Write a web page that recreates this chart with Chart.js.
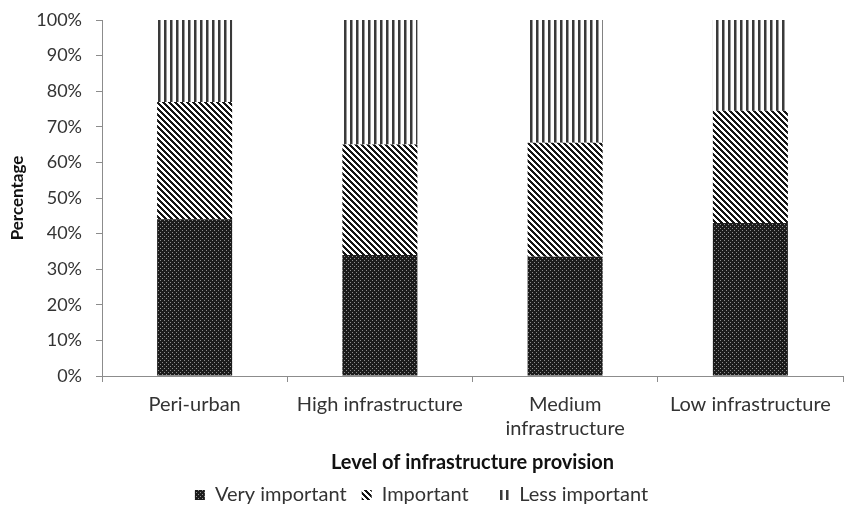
<!DOCTYPE html>
<html>
<head>
<meta charset="utf-8">
<script src="https://cdn.jsdelivr.net/npm/chart.js@4.4.0/dist/chart.umd.min.js"></script>
<style>
  html, body { margin: 0; padding: 0; background: #fff; }
  #wrap { width: 856px; height: 515px; }
</style>
</head>
<body>
<div id="wrap"><canvas id="chart" width="856" height="515"></canvas></div>
<script>
const categories = ['Peri-urban', 'High infrastructure', ['Medium', 'infrastructure'], 'Low infrastructure'];
const veryImportant = [44, 34, 33.5, 43];
const important = [33, 31, 32, 31.5];
const lessImportant = [23, 35, 34.5, 25.5];
const yTicks = [0, 10, 20, 30, 40, 50, 60, 70, 80, 90, 100];
// trailing spaces widen the gap between legend entries
const legendGaps = [1, 4, 0];

// small tiles used as fill patterns for the stacked bars
function makePattern(w, h, draw) {
    const c = document.createElement('canvas');
    c.width = w;
    c.height = h;
    const g = c.getContext('2d');
    g.fillStyle = '#fff';
    g.fillRect(0, 0, w, h);
    draw(g);
    return document.getElementById('chart').getContext('2d').createPattern(c, 'repeat');
}

const dotted = makePattern(4, 4, g => {
    g.fillStyle = '#1c1c1c';
    g.fillRect(0, 0, 4, 4);
    g.fillStyle = '#8e8e8e';
    g.fillRect(0, 0, 1, 1);
    g.fillRect(2, 2, 1, 1);
});

const diagonal = makePattern(6, 6, g => {
    g.fillStyle = '#151515';
    for (let y = 0; y < 6; y++) {
        for (let k = 0; k < 3; k++) {
            g.fillRect((y + k) % 6, y, 1, 1);
        }
    }
});

const vertical = makePattern(6, 1, g => {
    g.fillStyle = '#3a3a3a';
    g.fillRect(2, 0, 2, 1);
    g.fillStyle = '#9a9a9a';
    g.fillRect(4, 0, 1, 1);
});

const fontFamily = 'Lato, "Open Sans", sans-serif';

new Chart(document.getElementById('chart'), {
    type: 'bar',
    data: {
        labels: categories,
        datasets: [
            { label: 'Very important', data: veryImportant, backgroundColor: dotted },
            { label: 'Important', data: important, backgroundColor: diagonal },
            { label: 'Less important', data: lessImportant, backgroundColor: vertical }
        ]
    },
    options: {
        responsive: false,
        animation: false,
        layout: { padding: { top: 20, right: 13, left: 0, bottom: 0 } },
        datasets: {
            bar: { barPercentage: 0.405, categoryPercentage: 1, borderWidth: 0 }
        },
        plugins: {
            tooltip: { enabled: false },
            legend: {
                position: 'bottom',
                labels: {
                    color: '#333',
                    font: { family: fontFamily, size: 20 },
                    boxWidth: 10,
                    boxHeight: 10,
                    padding: 10,
                    generateLabels: chart => {
                        const items = Chart.defaults.plugins.legend.labels.generateLabels(chart);
                        items.forEach((item, i) => {
                            item.text = item.text + ' '.repeat(legendGaps[i]);
                            item.lineWidth = 0;
                        });
                        return items;
                    }
                }
            }
        },
        scales: {
            x: {
                stacked: true,
                afterFit: scale => { scale.height = 99; },
                border: { color: '#8c8c8c' },
                grid: { display: true, offset: true, drawOnChartArea: false, tickLength: 6, color: '#8c8c8c' },
                ticks: {
                    color: '#333',
                    font: { family: fontFamily, size: 20, lineHeight: 1.2 },
                    padding: 11,
                    maxRotation: 0,
                    autoSkip: false
                },
                title: {
                    display: true,
                    text: 'Level of infrastructure provision',
                    color: '#111',
                    font: { family: fontFamily, size: 20, weight: 'bold' },
                    padding: { top: 10, bottom: 0 }
                }
            },
            y: {
                stacked: true,
                min: 0,
                max: 100,
                afterFit: scale => {
                    scale.width = 102;
                    scale.paddingTop = 0;
                    scale.paddingBottom = 0;
                },
                afterBuildTicks: scale => {
                    scale.ticks = yTicks.map(v => ({ value: v }));
                },
                border: { color: '#8c8c8c' },
                grid: { display: true, drawOnChartArea: false, tickLength: 6, color: '#8c8c8c' },
                ticks: {
                    color: '#333',
                    font: { family: fontFamily, size: 18 },
                    padding: 14,
                    callback: v => v + '%'
                },
                title: {
                    display: true,
                    text: 'Percentage',
                    color: '#111',
                    font: { family: fontFamily, size: 17, weight: 'bold' },
                    padding: { top: 7, bottom: 0 }
                }
            }
        }
    }
});
</script>
</body>
</html>
